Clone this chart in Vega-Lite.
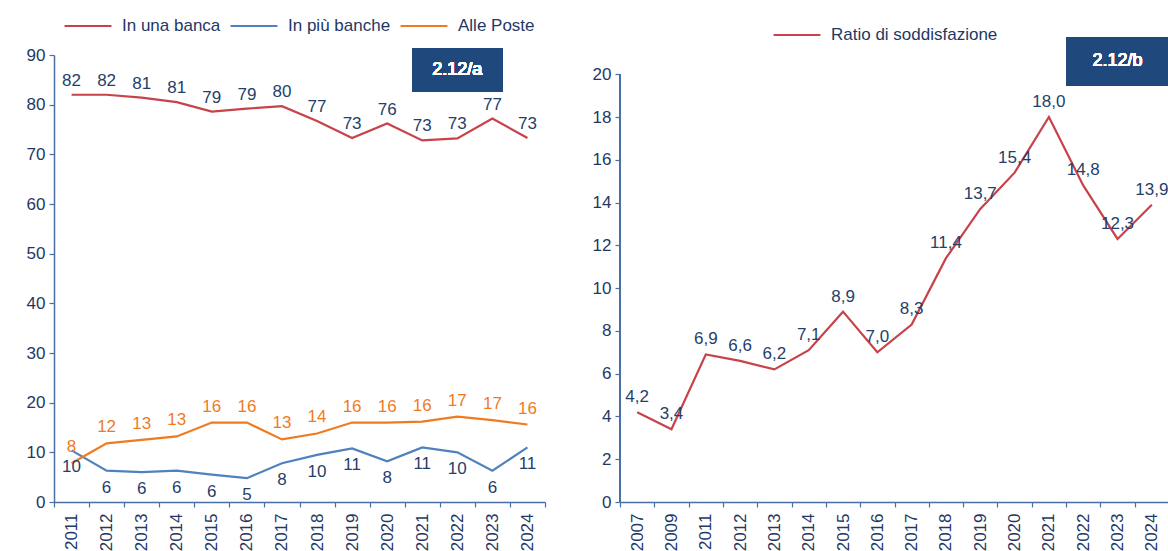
{
  "$schema": "https://vega.github.io/schema/vega-lite/v6.json",
  "background": "white",
  "padding": {"left": 26, "top": 1, "right": 0, "bottom": 0},
  "spacing": 46,
  "config": {
    "view": {"stroke": null},
    "font": "Liberation Sans, Arial, sans-serif",
    "locale": {"number": {"decimal": ",", "thousands": ".", "grouping": [3], "currency": ["€", ""]}},
    "axis": {
      "grid": false,
      "domainColor": "#4a6fa5",
      "tickColor": "#4a6fa5",
      "domainWidth": 1.5,
      "tickWidth": 1.2,
      "tickSize": 5,
      "labelColor": "#1f3864",
      "labelFont": "Liberation Sans, Arial, sans-serif",
      "labelFontSize": 17,
      "title": null
    },
    "legend": {
      "labelFont": "Liberation Sans, Arial, sans-serif",
      "labelFontSize": 17,
      "labelColor": "#1f3864",
      "labelLimit": 0,
      "labelOffset": 9,
      "symbolType": "stroke",
      "symbolStrokeWidth": 2.2,
      "symbolSize": 2200,
      "title": null,
      "direction": "horizontal",
      "columnPadding": 5
    }
  },
  "datasets": {
    "left": [
      {"year": "2011", "series": "In una banca", "value": 82.0},
      {"year": "2012", "series": "In una banca", "value": 82.0},
      {"year": "2013", "series": "In una banca", "value": 81.4},
      {"year": "2014", "series": "In una banca", "value": 80.5},
      {"year": "2015", "series": "In una banca", "value": 78.6},
      {"year": "2016", "series": "In una banca", "value": 79.2},
      {"year": "2017", "series": "In una banca", "value": 79.7},
      {"year": "2018", "series": "In una banca", "value": 76.7},
      {"year": "2019", "series": "In una banca", "value": 73.3},
      {"year": "2020", "series": "In una banca", "value": 76.2},
      {"year": "2021", "series": "In una banca", "value": 72.8},
      {"year": "2022", "series": "In una banca", "value": 73.2},
      {"year": "2023", "series": "In una banca", "value": 77.2},
      {"year": "2024", "series": "In una banca", "value": 73.3},
      {"year": "2011", "series": "In più banche", "value": 10.4},
      {"year": "2012", "series": "In più banche", "value": 6.3},
      {"year": "2013", "series": "In più banche", "value": 6.0},
      {"year": "2014", "series": "In più banche", "value": 6.3},
      {"year": "2015", "series": "In più banche", "value": 5.5},
      {"year": "2016", "series": "In più banche", "value": 4.8},
      {"year": "2017", "series": "In più banche", "value": 7.8},
      {"year": "2018", "series": "In più banche", "value": 9.5},
      {"year": "2019", "series": "In più banche", "value": 10.8},
      {"year": "2020", "series": "In più banche", "value": 8.2},
      {"year": "2021", "series": "In più banche", "value": 11.0},
      {"year": "2022", "series": "In più banche", "value": 10.0},
      {"year": "2023", "series": "In più banche", "value": 6.3},
      {"year": "2024", "series": "In più banche", "value": 11.0},
      {"year": "2011", "series": "Alle Poste", "value": 7.8},
      {"year": "2012", "series": "Alle Poste", "value": 11.8},
      {"year": "2013", "series": "Alle Poste", "value": 12.5},
      {"year": "2014", "series": "Alle Poste", "value": 13.2},
      {"year": "2015", "series": "Alle Poste", "value": 16.0},
      {"year": "2016", "series": "Alle Poste", "value": 16.0},
      {"year": "2017", "series": "Alle Poste", "value": 12.6},
      {"year": "2018", "series": "Alle Poste", "value": 13.8},
      {"year": "2019", "series": "Alle Poste", "value": 16.0},
      {"year": "2020", "series": "Alle Poste", "value": 16.0},
      {"year": "2021", "series": "Alle Poste", "value": 16.2},
      {"year": "2022", "series": "Alle Poste", "value": 17.2},
      {"year": "2023", "series": "Alle Poste", "value": 16.5},
      {"year": "2024", "series": "Alle Poste", "value": 15.6}
    ],
    "right": [
      {"year": "2007", "value": 4.2},
      {"year": "2009", "value": 3.4},
      {"year": "2011", "value": 6.9},
      {"year": "2012", "value": 6.6},
      {"year": "2013", "value": 6.2},
      {"year": "2014", "value": 7.1},
      {"year": "2015", "value": 8.9},
      {"year": "2016", "value": 7.0},
      {"year": "2017", "value": 8.3},
      {"year": "2018", "value": 11.4},
      {"year": "2019", "value": 13.7},
      {"year": "2020", "value": 15.4},
      {"year": "2021", "value": 18.0},
      {"year": "2022", "value": 14.8},
      {"year": "2023", "value": 12.3},
      {"year": "2024", "value": 13.9}
    ]
  },
  "resolve": {"scale": {"color": "independent", "x": "independent", "y": "independent"}, "legend": {"color": "independent"}},
  "hconcat": [
    {
      "width": 491,
      "height": 447,
      "data": {"name": "left"},
      "encoding": {
        "x": {"field": "year", "type": "ordinal", "bandPosition": 0.5,
              "scale": {"type": "band", "paddingInner": 0, "paddingOuter": 0},
              "axis": {"labelAngle": -90, "tickBand": "extent", "labelPadding": 6, "labelBaseline": "middle", "labelAlign": "right"}},
        "y": {"field": "value", "type": "quantitative",
              "scale": {"domain": [0, 90], "nice": false},
              "axis": {"values": [0, 10, 20, 30, 40, 50, 60, 70, 80, 90], "labelPadding": 4}}
      },
      "layer": [
        {
          "mark": {"type": "line", "strokeWidth": 2.2},
          "encoding": {
            "color": {"field": "series", "type": "nominal",
                      "scale": {"domain": ["In una banca", "In più banche", "Alle Poste"], "range": ["#c8424a", "#4f81bd", "#f07b1f"]},
                      "legend": {"orient": "none", "legendX": 9, "legendY": -54}}
          }
        },
        {
          "transform": [{"filter": "datum.series === 'In una banca'"}],
          "mark": {"type": "text", "baseline": "bottom", "dy": -5, "fontSize": 17, "color": "#243f6b"},
          "encoding": {"text": {"field": "value", "type": "quantitative", "format": ".0f"}}
        },
        {
          "transform": [{"filter": "datum.series === 'In più banche'"}],
          "mark": {"type": "text", "baseline": "top", "dy": 9, "fontSize": 17, "color": "#243f6b"},
          "encoding": {"text": {"field": "value", "type": "quantitative", "format": ".0f"}}
        },
        {
          "transform": [{"filter": "datum.series === 'Alle Poste'"}],
          "mark": {"type": "text", "baseline": "bottom", "dy": -7, "fontSize": 17, "color": "#f07b1f"},
          "encoding": {"text": {"field": "value", "type": "quantitative", "format": ".0f"}}
        },
        {
          "mark": {"type": "rect", "width": 90, "height": 44, "color": "#1f497d"},
          "encoding": {"x": {"datum": "2022", "bandPosition": 0.5}, "y": {"datum": 87}}
        },
        {
          "mark": {"type": "text", "text": "2.12/a", "color": "white", "fontSize": 18, "fontWeight": "normal", "align": "center", "baseline": "middle"},
          "encoding": {"x": {"datum": "2022", "bandPosition": 0.5}, "y": {"datum": 87}}
        }
      ]
    },
    {
      "width": 549,
      "height": 447,
      "data": {"name": "right"},
      "encoding": {
        "x": {"field": "year", "type": "ordinal", "bandPosition": 0.5,
              "scale": {"type": "band", "paddingInner": 0, "paddingOuter": 0},
              "axis": {"labelAngle": -90, "tickBand": "extent", "labelPadding": 6, "labelBaseline": "middle", "labelAlign": "right"}},
        "y": {"field": "value", "type": "quantitative",
              "scale": {"domain": [0, 20.9], "nice": false},
              "axis": {"values": [0, 2, 4, 6, 8, 10, 12, 14, 16, 18, 20], "labelPadding": 4, "domain": false}}
      },
      "layer": [
        {
          "mark": {"type": "rule", "color": "#4a6fa5", "strokeWidth": 1.5},
          "encoding": {"x": {"datum": "2007", "bandPosition": 0}, "y": {"datum": 0}, "y2": {"datum": 20}}
        },
        {
          "mark": {"type": "line", "strokeWidth": 2.2},
          "encoding": {
            "color": {"datum": "Ratio di soddisfazione", "type": "nominal",
                      "scale": {"domain": ["Ratio di soddisfazione"], "range": ["#c8424a"]},
                      "legend": {"orient": "none", "legendX": 152, "legendY": -45}}
          }
        },
        {
          "mark": {"type": "text", "baseline": "bottom", "dy": -6, "fontSize": 17, "color": "#243f6b"},
          "encoding": {"text": {"field": "value", "type": "quantitative", "format": ".1f"}}
        },
        {
          "mark": {"type": "rect", "width": 103, "height": 48, "color": "#1f497d"},
          "encoding": {"x": {"datum": "2023", "bandPosition": 0.5}, "y": {"datum": 20.6}}
        },
        {
          "mark": {"type": "text", "text": "2.12/b", "color": "white", "fontSize": 18, "fontWeight": "normal", "align": "center", "baseline": "middle"},
          "encoding": {"x": {"datum": "2023", "bandPosition": 0.5}, "y": {"datum": 20.6}}
        }
      ]
    }
  ]
}
